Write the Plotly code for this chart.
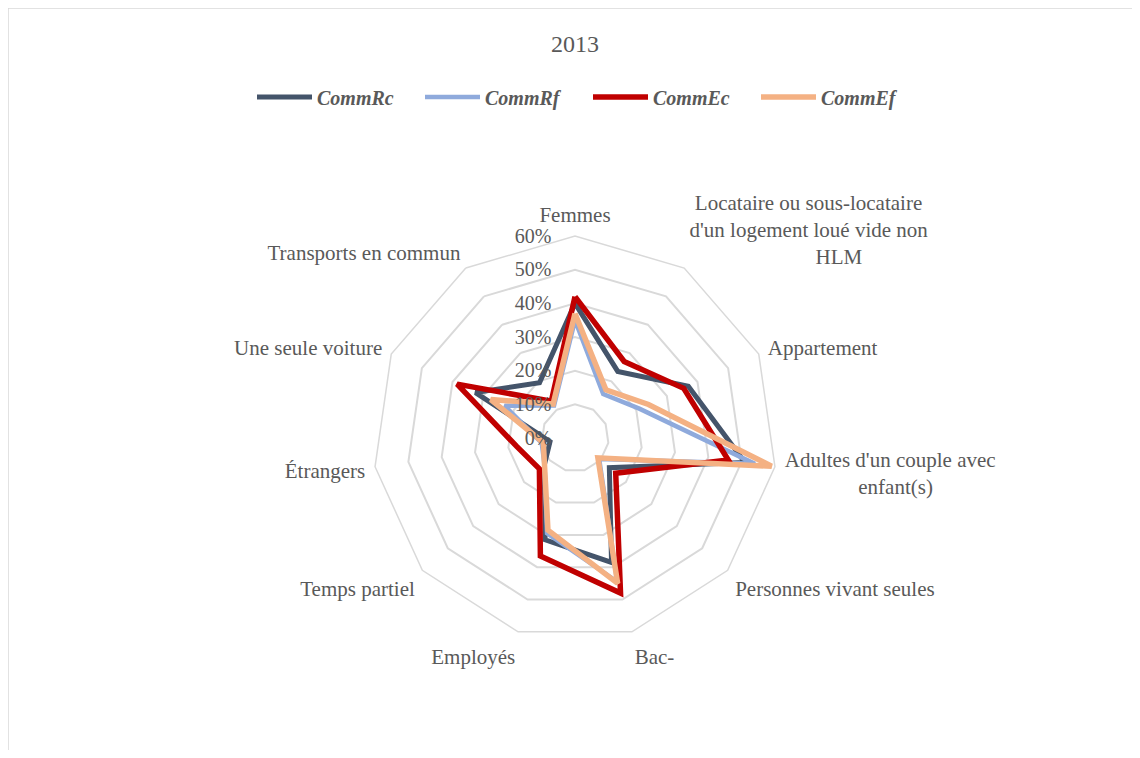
import plotly.graph_objects as go

categories = [
    "Femmes",
    "Locataire ou sous-locataire d'un logement loué vide non HLM",
    "Appartement",
    "Adultes d'un couple avec enfant(s)",
    "Personnes vivant seules",
    "Bac-",
    "Employés",
    "Temps partiel",
    "Étrangers",
    "Une seule voiture",
    "Transports en commun",
]
NB = "\u00a0"
category_labels = [
    "Femmes",
    NB + "Locataire ou sous-locataire<br>d'un logement loué vide non<br>" + NB * 24 + "HLM",
    "Appartement",
    "Adultes d'un couple avec<br>" + NB * 14 + "enfant(s)",
    "Personnes vivant seules",
    "Bac-",
    "Employés",
    "Temps partiel",
    "Étrangers",
    "Une seule voiture",
    "Transports en commun",
]

comm_rc = [0.40, 0.235, 0.37, 0.51, 0.135, 0.385, 0.315, 0.12, 0.075, 0.325, 0.195]
comm_rf = [0.35, 0.155, 0.21, 0.54, 0.095, 0.445, 0.295, 0.12, 0.10, 0.23, 0.115]
comm_ec = [0.42, 0.27, 0.355, 0.46, 0.16, 0.48, 0.365, 0.14, 0.175, 0.385, 0.13]
comm_ef = [0.37, 0.17, 0.24, 0.59, 0.09, 0.45, 0.285, 0.12, 0.095, 0.275, 0.12]

series_names = ["CommRc", "CommRf", "CommEc", "CommEf"]
series_values = [comm_rc, comm_rf, comm_ec, comm_ef]
series_colors = ["#44546A", "#8FAADC", "#C00000", "#F4B183"]
series_widths = [5, 4.5, 5.5, 5.5]

tick_vals = [0, 0.1, 0.2, 0.3, 0.4, 0.5, 0.6]
tick_text = ["0%", "10%", "20%", "30%", "40%", "50%", "60%"]

W, H = 1124, 742
FONT = "Liberation Serif, Times New Roman, serif"
GREY = "#595959"

fig = go.Figure()
for name, vals, col, lw in zip(series_names, series_values, series_colors, series_widths):
    fig.add_trace(go.Scatterpolar(
        r=vals + vals[:1],
        theta=categories + categories[:1],
        mode="lines",
        name=name,
        line=dict(color=col, width=lw),
        hoverinfo="skip",
    ))

# geometry (figure px): center (567, 430), radius 202
cx, cy, R = 567, 430, 202
fig.update_layout(
    width=W, height=H,
    margin=dict(l=0, r=0, t=0, b=0),
    paper_bgcolor="white",
    plot_bgcolor="white",
    font=dict(family=FONT, color=GREY, size=21),
    title=dict(text="2013", x=(575 - 8) / W, xanchor="center",
               y=1 - (44 - 8) / H, yanchor="middle",
               font=dict(family=FONT, size=24, color=GREY)),
    legend=dict(
        orientation="h",
        x=(252 - 8) / W, xanchor="left",
        y=1 - (97 - 8) / H, yanchor="middle",
        font=dict(family=FONT, size=20, color=GREY, style="italic", weight="bold"),
        itemwidth=55,
        entrywidth=98, entrywidthmode="pixels",
        bgcolor="rgba(0,0,0,0)",
    ),
    polar=dict(
        domain=dict(x=[(cx - R) / W, (cx + R) / W],
                    y=[(H - cy - R) / H, (H - cy + R) / H]),
        gridshape="linear",
        bgcolor="white",
        radialaxis=dict(
            range=[0, 0.6],
            tickvals=tick_vals, ticktext=[t + NB * 4 for t in tick_text],
            angle=90, tickangle=90,
            side="counterclockwise",
            showline=False, ticks="",
            gridcolor="#D9D9D9", gridwidth=1.5,
            tickfont=dict(family=FONT, size=20, color=GREY),
        ),
        angularaxis=dict(
            direction="clockwise", rotation=90,
            tickmode="array", tickvals=categories, ticktext=category_labels,
            showgrid=False,
            showline=True, linecolor="#D9D9D9", linewidth=1.5,
            ticks="outside", ticklen=5, tickcolor="rgba(0,0,0,0)",
            tickfont=dict(family=FONT, size=21, color=GREY),
        ),
    ),
    shapes=[
        dict(type="line", xref="paper", yref="paper", x0=0, x1=1, y0=1, y1=1,
             line=dict(color="#D9D9D9", width=1.5)),
        dict(type="line", xref="paper", yref="paper", x0=0, x1=0, y0=0, y1=1,
             line=dict(color="#D9D9D9", width=1.5)),
    ],
)

fig.write_html("out.html")
